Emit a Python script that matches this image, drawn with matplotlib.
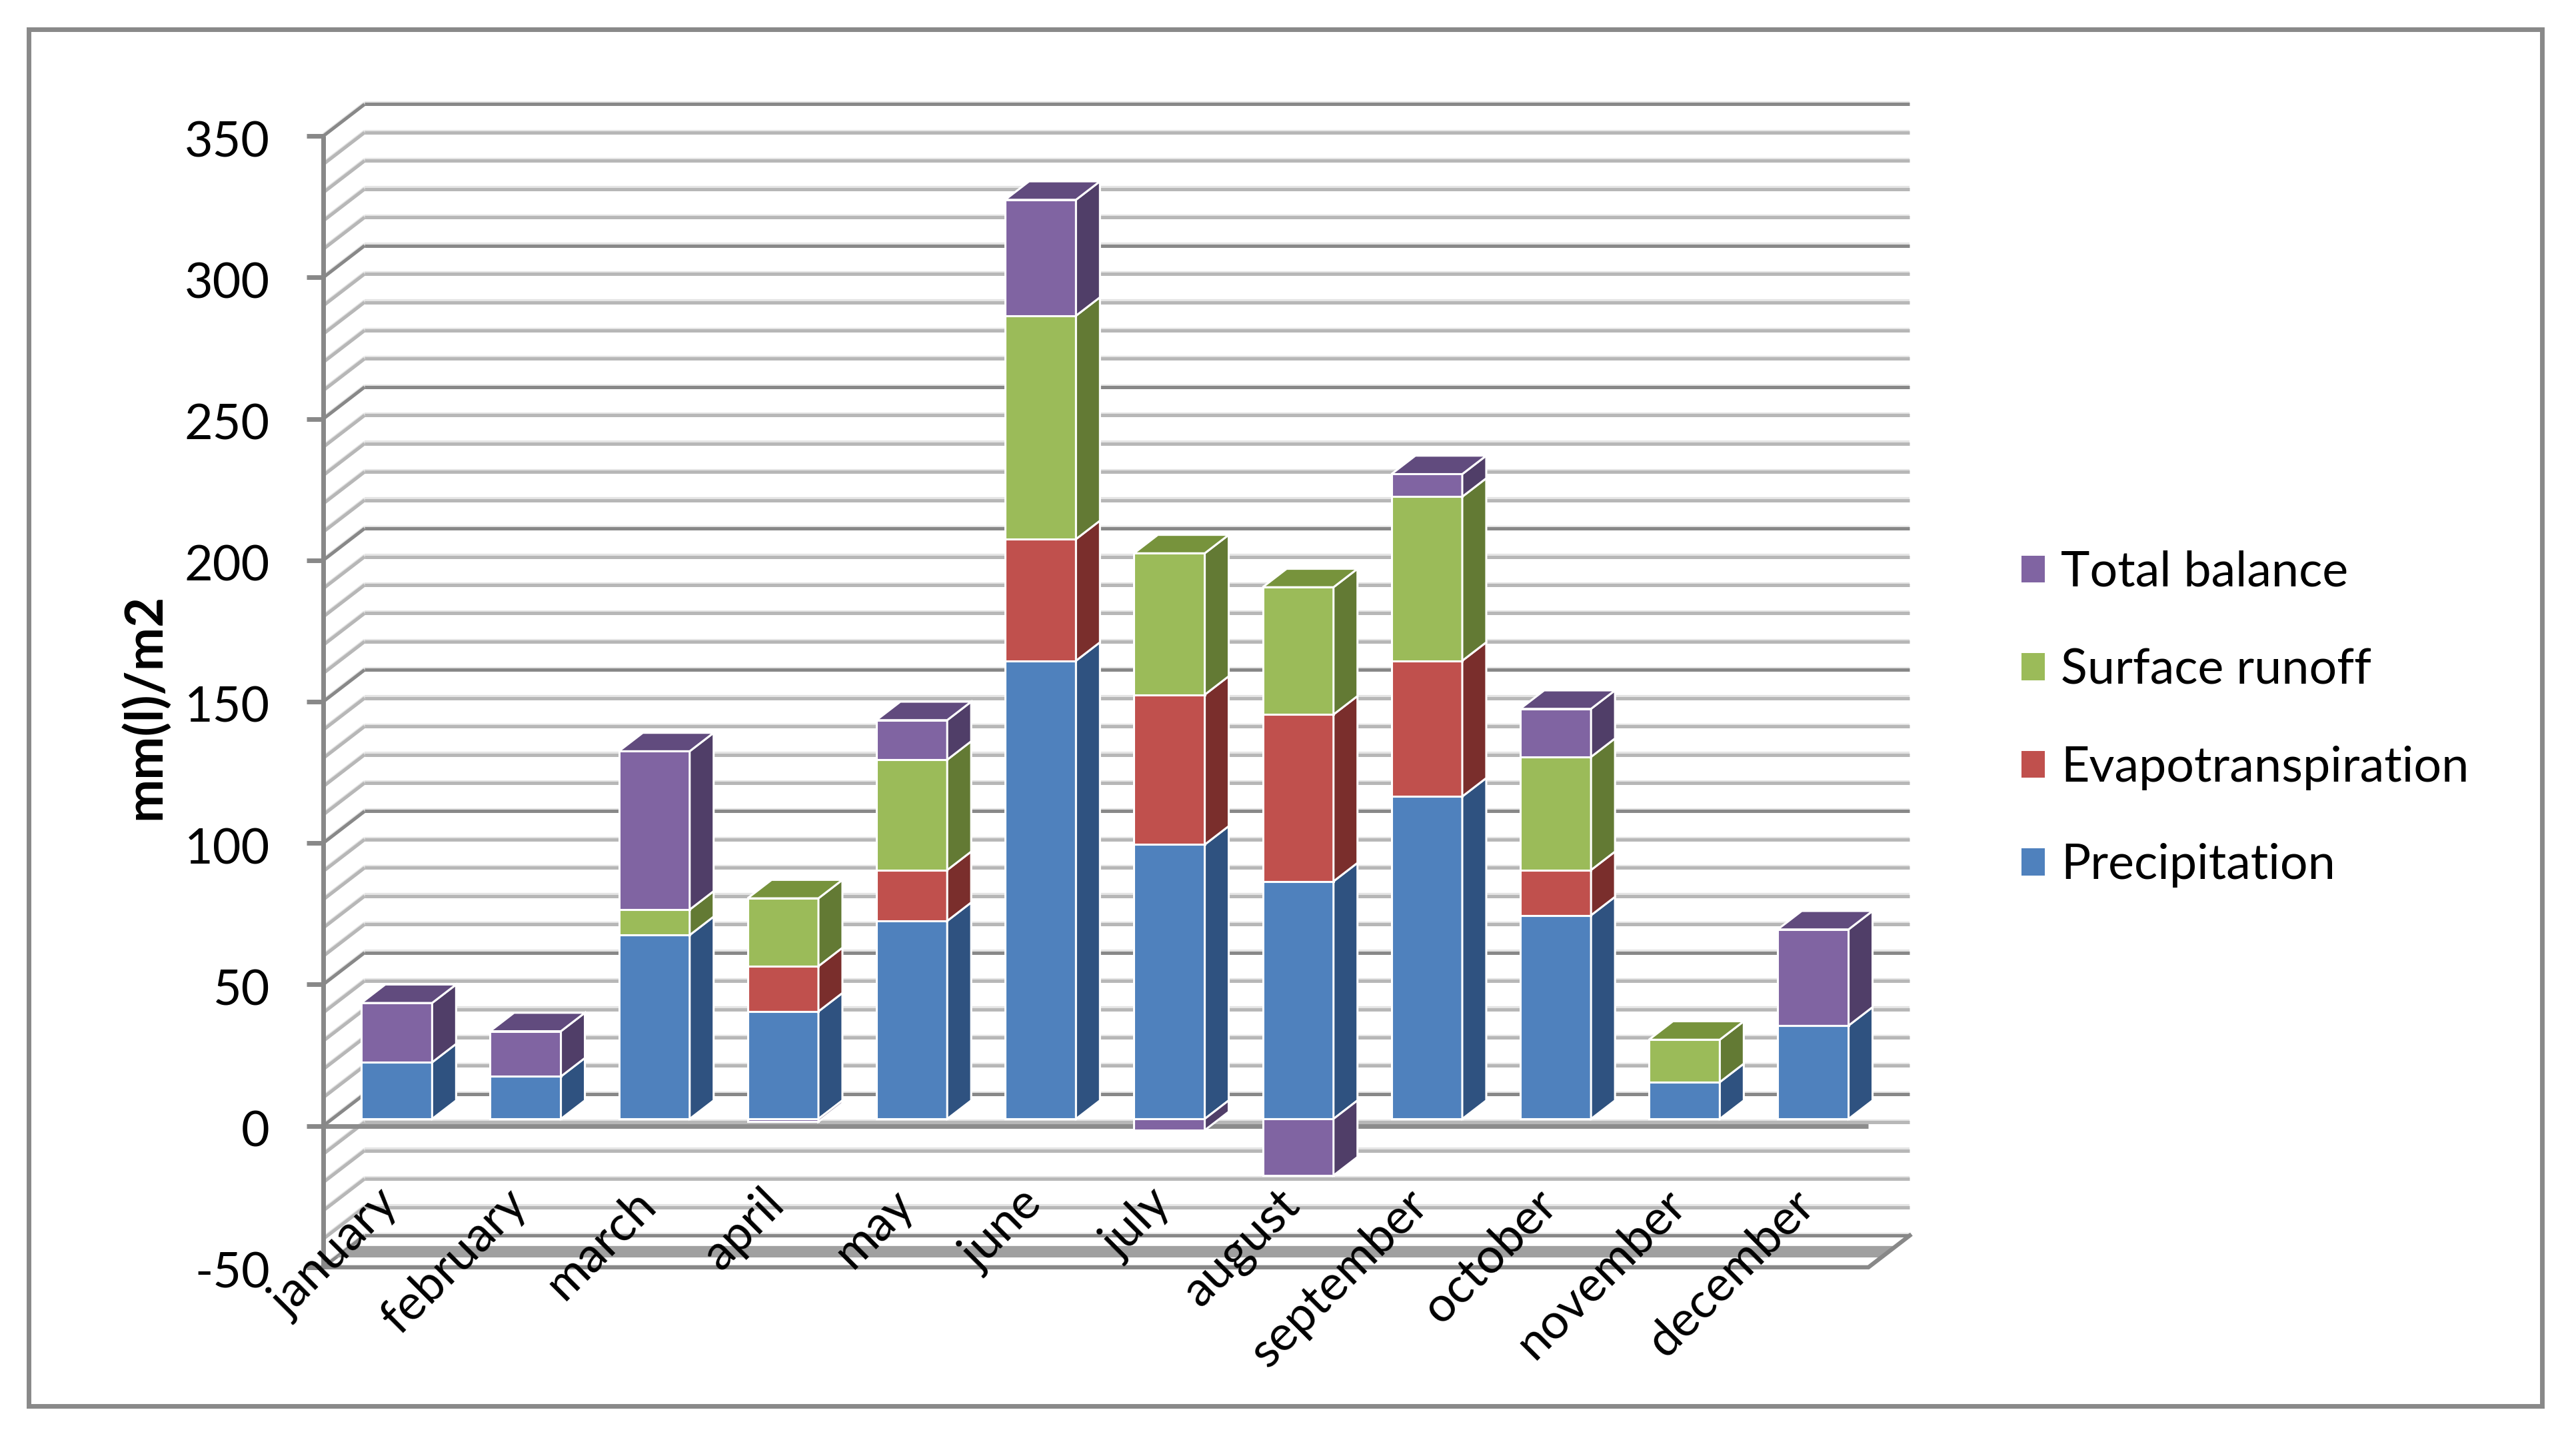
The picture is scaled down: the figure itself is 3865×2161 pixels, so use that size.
import numpy as np
import matplotlib.pyplot as plt
from matplotlib.patches import Polygon, Patch, Rectangle

plt.rcParams['font.family'] = ['Lato', 'DejaVu Sans']

months = ["january", "february", "march", "april", "may", "june",
          "july", "august", "september", "october", "november", "december"]
precipitation = [20, 15, 65, 38, 70, 162, 97, 84, 114, 72, 13, 33]
evapotranspiration = [0, 0, 0, 16, 18, 43, 53, 59, 48, 16, 0, 0]
surface_runoff = [0, 0, 9, 24, 39, 79, 50, 45, 58, 40, 15, 0]
total_balance = [21, 16, 56, -1, 14, 41, -4, -20, 8, 17, 0, 34]
series_names = ["Precipitation", "Evapotranspiration", "Surface runoff", "Total balance"]
y_ticks = list(range(-50, 351, 50))

front_cols = ["#4F81BD", "#C0504D", "#9BBB59", "#8064A2"]
side_cols = ["#2F5280", "#7A2E2C", "#637A34", "#503E68"]
top_cols = ["#3E6896", "#9A403E", "#77933C", "#614B7E"]

# pseudo 3d geometry (front plane in data units)
DX, DY = 0.321, 11.24      # depth of the walls
D0, BD = 0.22, 0.58        # bar start depth and bar depth (fraction of wall)
W = 0.55
X0, X1 = -0.5, 11.5
PXW, PYV, Y0PX = 193.2, 4.244, 1689.6
FS = 53


def px2x(px):
    return X0 + (px - 485) / PXW


def px2y(py):
    return (Y0PX - py) / PYV


fig = plt.figure(figsize=(38.66, 21.61), dpi=100)
ax = fig.add_axes([0, 0, 1, 1])
ax.set_xlim(px2x(0), px2x(3866))
ax.set_ylim(px2y(2161), px2y(0))
ax.axis("off")

# walls: gridlines every 10
for v in range(-50, 351, 10):
    major = v % 50 == 0
    col = "#888888" if major else "#b7b7b7"
    for dv, c, lw in [(0.55, "#e4e4e4", 3.0), (0, col, 3.6)]:
        ax.plot([X0 + DX, X1 + DX], [v + DY + dv, v + DY + dv], color=c, lw=lw,
                solid_capstyle="butt", zorder=1)
        ax.plot([X0, X0 + DX], [v + dv, v + DY + dv], color=c, lw=lw,
                solid_capstyle="butt", zorder=1)

# floor at -50
fl = -50
band = [(X0 + 0.31 * DX, fl + 0.31 * DY), (X1 + 0.31 * DX, fl + 0.31 * DY),
        (X1 + 0.67 * DX, fl + 0.67 * DY), (X0 + 0.67 * DX, fl + 0.67 * DY)]
ax.add_patch(Polygon(band, closed=True, facecolor="#a0a0a0", edgecolor="none", zorder=1.5))
ax.plot([X0, X1, X1 + DX], [fl, fl, fl + DY], color="#888888", lw=4.5,
        solid_joinstyle="miter", zorder=2)

# zero line and front axis
ax.plot([X0, X1], [0, 0], color="#8c8c8c", lw=5, solid_capstyle="butt", zorder=2)
ax.plot([X0, X0], [-50, 350], color="#888888", lw=5, solid_capstyle="butt", zorder=3)
for v in y_ticks:
    ax.plot([X0 - 25 / PXW, X0], [v, v], color="#888888", lw=5, solid_capstyle="butt", zorder=3)
    ax.text(X0 - 80 / PXW, v - 31 / PYV, str(v), ha="right", va="baseline",
            fontsize=FS, color="black")

# stacked bars
xs = np.arange(len(months)) + D0 * DX
yoff = D0 * DY
sx, sy = BD * DX, BD * DY
pos_base = np.zeros(len(months))
neg_base = np.zeros(len(months))
top_val = np.zeros(len(months))
top_idx = np.full(len(months), -1)
data = [precipitation, evapotranspiration, surface_runoff, total_balance]
for k, vals in enumerate(data):
    vals = np.array(vals, dtype=float)
    bottoms = np.where(vals >= 0, pos_base, neg_base)
    ax.bar(xs, vals, width=W, bottom=bottoms + yoff, color=front_cols[k],
           edgecolor="white", linewidth=2.2, zorder=5)
    for i in range(len(months)):
        if vals[i] == 0:
            continue
        xr = xs[i] + W / 2
        ya, yb = bottoms[i] + yoff, bottoms[i] + vals[i] + yoff
        side = [(xr, ya), (xr, yb), (xr + sx, yb + sy), (xr + sx, ya + sy)]
        ax.add_patch(Polygon(side, closed=True, facecolor=side_cols[k],
                             edgecolor="white", lw=2.2, zorder=5))
        if vals[i] > 0:
            top_val[i] = bottoms[i] + vals[i]
            top_idx[i] = k
    pos_base += np.clip(vals, 0, None)
    neg_base += np.clip(vals, None, 0)

for i in range(len(months)):
    k = top_idx[i]
    xl, xr = xs[i] - W / 2, xs[i] + W / 2
    yt = top_val[i] + yoff
    top = [(xl, yt), (xr, yt), (xr + sx, yt + sy), (xl + sx, yt + sy)]
    ax.add_patch(Polygon(top, closed=True, facecolor=top_cols[k],
                         edgecolor="white", lw=2.2, zorder=6))

# category labels
for i, m in enumerate(months):
    ax.text(i + 0.1, -28.5, m, rotation=45, rotation_mode="anchor",
            ha="right", va="baseline", fontsize=FS, color="black", zorder=7)

ax.text(px2x(218), px2y(1060), "mm(l)/m2", rotation=90, ha="center", va="center",
        fontsize=56, fontweight="bold", color="black")

handles = [Patch(facecolor=front_cols[k], edgecolor="none") for k in [3, 2, 1, 0]]
labels = [series_names[k] for k in [3, 2, 1, 0]]
ax.legend(handles, labels, loc="upper left", bbox_to_anchor=(3033 / 3866, 1 - 826 / 2161),
          frameon=False, prop={"family": ["Lato", "DejaVu Sans"], "size": FS},
          handlelength=0.47, handleheight=0.47, handletextpad=0.33, labelspacing=1.08,
          borderpad=0, borderaxespad=0)

fig.patches.append(Rectangle((43 / 3866, 1 - 2110 / 2161), (3814 - 43) / 3866,
                             (2110 - 44) / 2161, transform=fig.transFigure,
                             fill=False, edgecolor="#898989", lw=5))

fig.savefig("out.png", dpi=100, facecolor="white")
